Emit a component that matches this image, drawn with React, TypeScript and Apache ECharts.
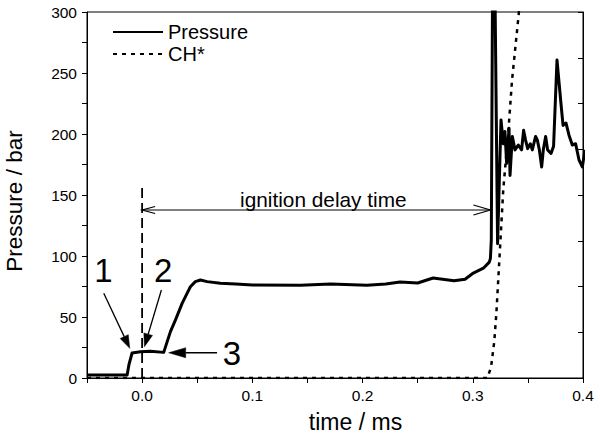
import React, { useEffect, useRef } from "react";
import * as echarts from "echarts";

// Pressure trace (time in ms, pressure in bar)
const pressureTime = [
  -0.05, -0.0136, -0.012, -0.0091, -0.0015, 0.0075, 0.0196, 0.0257, 0.0302, 0.0363,
  0.0408, 0.0438, 0.0483, 0.0529, 0.059, 0.071, 0.085, 0.1, 0.1437, 0.171,
  0.204, 0.221, 0.234, 0.25, 0.264, 0.283, 0.293, 0.3005, 0.3096, 0.315,
  0.316, 0.3168, 0.318, 0.32, 0.3225, 0.3256, 0.3277, 0.3292, 0.3307, 0.3329,
  0.3338, 0.3359, 0.3383, 0.3413, 0.3443, 0.3461, 0.3479, 0.3498, 0.3522, 0.354,
  0.357, 0.3586, 0.3604, 0.3625, 0.364, 0.3661, 0.3679, 0.371, 0.3733, 0.3764,
  0.38, 0.3819, 0.3846, 0.3873, 0.3903, 0.3933, 0.3964, 0.3994, 0.4018,
];
const pressureValues = [
  2.5, 2.5, 10.7, 20.5, 21.5, 22, 21, 38, 47.5, 61.2,
  69.4, 74.8, 79, 80.3, 79, 77.6, 77, 76.2, 76, 77,
  76, 77, 78.7, 77.9, 82, 79.8, 81, 86, 90, 95,
  98, 113, 330, 330, 110, 211.5, 192, 202, 176, 204.7,
  166, 198, 187, 191, 187, 203, 195, 188, 192, 187,
  198, 195, 187, 173, 187, 198, 187, 184, 190, 260.7,
  225, 207, 209, 199, 191, 192, 178.7, 173, 187,
];

// CH* emission (scaled onto the pressure axis)
const chTime = [-0.05, 0.3132, 0.3166, 0.3195, 0.3214, 0.324, 0.3277, 0.3322, 0.3356, 0.3416, 0.345];
const chValues = [0, 0, 9, 30, 53, 95, 155, 201, 244, 297.5, 340];

// Annotations (data coordinates)
const markerLabels = ["1", "2", "3"];
const markerLabelPos = [
  [-0.0351, 88.1],
  [0.0191, 88.1],
  [0.0815, 20.1],
];
const markerArrowFrom = [
  [-0.0348, 69.4],
  [0.0175, 72.1],
  [0.068, 20.7],
];
const markerArrowTo = [
  [-0.0112, 24.3],
  [0.0021, 25.7],
  [0.0241, 20.7],
];
const delayStart = 0;
const delayEnd = 0.316;
const delayLevel = 137.7;
const delayLabel = "ignition delay time";
const delayLabelPos = [0.1644, 146.7];
const dashedLineTop = 156;

const FONT = '"Liberation Sans", Arial, Helvetica, sans-serif';

function zip(a: number[], b: number[]) {
  return a.map((v, i) => [v, b[i]]);
}

export default function App() {
  const ref = useRef<HTMLDivElement>(null);

  useEffect(() => {
    if (!ref.current) return;
    const chart = echarts.init(ref.current, undefined, { renderer: "svg" });

    const option: any = {
      animation: false,
      backgroundColor: "#fff",
      textStyle: { fontFamily: FONT },
      grid: {
        left: 87,
        right: 17,
        top: 12,
        bottom: 62,
        containLabel: false,
        outerBoundsMode: "none",
        show: true,
        borderColor: "#000",
        borderWidth: 1,
        backgroundColor: "transparent",
      },
      legend: {
        orient: "vertical",
        left: 107,
        top: 17,
        itemWidth: 50,
        itemHeight: 14,
        itemGap: 2,
        itemStyle: { opacity: 0 },
        textStyle: { fontSize: 20, color: "#000", fontFamily: FONT },
        data: ["Pressure", "CH*"],
      },
      xAxis: [
        {
          type: "value",
          min: -0.05,
          max: 0.4,
          interval: 0.05,
          name: "time / ms",
          nameLocation: "middle",
          nameGap: 32,
          nameTextStyle: {
            fontSize: 23,
            color: "#000",
            fontFamily: FONT,
            padding: [0, 0, 0, 41],
          },
          axisLine: { show: true, onZero: false, lineStyle: { color: "#000", width: 1 } },
          axisTick: { show: true, inside: false, length: 5, lineStyle: { color: "#000" } },
          axisLabel: {
            fontSize: 15.5,
            color: "#000",
            margin: 9,
            fontFamily: FONT,
            formatter: (v: number) => {
              const k = Math.round(v * 100);
              return k % 10 === 0 ? (k / 100).toFixed(1) : "";
            },
          },
          splitLine: { show: false },
        },
      ],
      yAxis: [
        {
          type: "value",
          min: 0,
          max: 300,
          interval: 25,
          name: "Pressure / bar",
          nameLocation: "middle",
          nameGap: 61,
          nameTextStyle: {
            fontSize: 22.5,
            color: "#000",
            fontFamily: FONT,
            padding: [0, 12, 0, 0],
          },
          axisLine: { show: true, onZero: false, lineStyle: { color: "#000", width: 1 } },
          axisTick: { show: true, inside: false, length: 5, lineStyle: { color: "#000" } },
          axisLabel: {
            fontSize: 15.5,
            color: "#000",
            margin: 10,
            fontFamily: FONT,
            formatter: (v: number) => (v % 50 === 0 ? String(v) : ""),
          },
          splitLine: { show: false },
        },
        {
          type: "value",
          position: "right",
          min: 0,
          max: 8,
          interval: 1,
          axisLine: { show: true, onZero: false, lineStyle: { color: "#000", width: 1 } },
          axisTick: { show: true, inside: true, length: 5, lineStyle: { color: "#000" } },
          axisLabel: { show: false },
          splitLine: { show: false },
        },
      ],
      series: [
        {
          name: "Pressure",
          type: "line",
          data: zip(pressureTime, pressureValues),
          symbol: "none",
          clip: true,
          z: 3,
          itemStyle: { color: "#000" },
          lineStyle: { color: "#000", width: 3, join: "round" },
        },
        {
          name: "CH*",
          type: "line",
          data: zip(chTime, chValues),
          symbol: "none",
          clip: true,
          z: 2,
          itemStyle: { color: "#000" },
          lineStyle: { color: "#000", width: 2.5, type: [4, 5] },
        },
      ],
    };
    chart.setOption(option);

    const px = (p: number[]) =>
      chart.convertToPixel({ xAxisIndex: 0, yAxisIndex: 0 }, p) as number[];

    const graphics: any[] = [];

    // dashed vertical line at t = 0
    const d0 = px([delayStart, 0]);
    const d1 = px([delayStart, dashedLineTop]);
    graphics.push({
      type: "line",
      shape: { x1: d0[0], y1: d0[1], x2: d1[0], y2: d1[1] },
      style: { stroke: "#000", lineWidth: 1.8, lineDash: [10, 5] },
      z: 10,
    });

    // ignition delay double arrow
    const a0 = px([delayStart, delayLevel]);
    const a1 = px([delayEnd, delayLevel]);
    graphics.push({
      type: "line",
      shape: { x1: a0[0], y1: a0[1], x2: a1[0], y2: a1[1] },
      style: { stroke: "#000", lineWidth: 1.2 },
      z: 10,
    });
    graphics.push({
      type: "polyline",
      shape: {
        points: [
          [a0[0] + 13, a0[1] - 3.5],
          [a0[0], a0[1]],
          [a0[0] + 13, a0[1] + 3.5],
        ],
      },
      style: { stroke: "#000", lineWidth: 1.2, fill: null },
      z: 10,
    });
    graphics.push({
      type: "polyline",
      shape: {
        points: [
          [a1[0] - 17, a1[1] - 5],
          [a1[0], a1[1]],
          [a1[0] - 17, a1[1] + 5],
        ],
      },
      style: { stroke: "#000", lineWidth: 1.2, fill: null },
      z: 10,
    });
    const tl = px(delayLabelPos);
    graphics.push({
      type: "text",
      x: tl[0],
      y: tl[1],
      style: {
        text: delayLabel,
        fill: "#000",
        fontSize: 20.8,
        fontFamily: FONT,
        align: "center",
        verticalAlign: "middle",
      },
      z: 10,
    });

    // numbered markers with filled arrows
    markerLabels.forEach((lab, i) => {
      const lp = px(markerLabelPos[i]);
      graphics.push({
        type: "text",
        x: lp[0],
        y: lp[1],
        style: {
          text: lab,
          fill: "#000",
          fontSize: 33,
          fontFamily: FONT,
          align: "center",
          verticalAlign: "middle",
        },
        z: 10,
      });
      const s = px(markerArrowFrom[i]);
      const t = px(markerArrowTo[i]);
      const dx = t[0] - s[0];
      const dy = t[1] - s[1];
      const len = Math.sqrt(dx * dx + dy * dy);
      const ux = dx / len;
      const uy = dy / len;
      const L = i === 2 ? 17 : 13;
      const W = i === 2 ? 5 : 4.5;
      const bx = t[0] - ux * L;
      const by = t[1] - uy * L;
      graphics.push({
        type: "line",
        shape: { x1: s[0], y1: s[1], x2: bx, y2: by },
        style: { stroke: "#000", lineWidth: 1.3 },
        z: 10,
      });
      graphics.push({
        type: "polygon",
        shape: {
          points: [
            [t[0], t[1]],
            [bx - uy * W, by + ux * W],
            [bx + uy * W, by - ux * W],
          ],
        },
        style: { fill: "#000", stroke: "#000", lineWidth: 0.5 },
        z: 10,
      });
    });

    chart.setOption({ graphic: graphics });

    return () => {
      chart.dispose();
    };
  }, []);

  return (
    <div
      ref={ref}
      style={{ position: "absolute", left: 0, top: 0, width: 600, height: 440 }}
    />
  );
}
